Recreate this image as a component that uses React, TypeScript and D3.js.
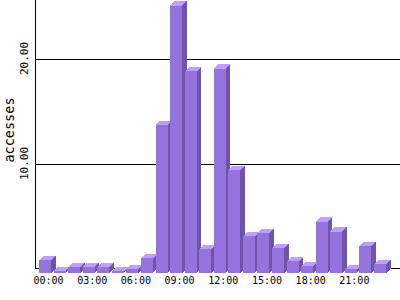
import React from "react";
import * as d3 from "d3";

const hours: string[] = [
  "00:00","01:00","02:00","03:00","04:00","05:00","06:00","07:00",
  "08:00","09:00","10:00","11:00","12:00","13:00","14:00","15:00",
  "16:00","17:00","18:00","19:00","20:00","21:00","22:00","23:00",
];
const accesses: number[] = [
  1.2, 0.15, 0.55, 0.55, 0.55, 0.15, 0.35, 1.4,
  14.05, 25.45, 19.2, 2.25, 19.45, 9.8, 3.5, 3.8,
  2.35, 1.1, 0.65, 4.9, 3.95, 0.35, 2.55, 0.85,
];
const xTickLabels: string[] = ["00:00","03:00","06:00","09:00","12:00","15:00","18:00","21:00"];
const yTicks: number[] = [10, 20];
const yTitle = "accesses";

const W = 400, H = 300;
const D = 4.5; // 3D depth

export default function App() {
  const x = d3.scaleBand<string>().domain(hours).range([39, 386]).paddingInner(0.176).paddingOuter(0);
  const yBack = d3.scaleLinear().domain([0, 20]).range([268.5, 58.5]);
  const yFront = (v: number) => yBack(v) + D;
  const bw = x.bandwidth();
  const front = "#9573dc";
  const side = "#6f55a8";
  const top = "#c09cff";
  const mono = "'DejaVu Sans Mono', monospace";

  return (
    <svg width={W} height={H} style={{ position: "absolute", left: 0, top: 0, background: "#fff" }}>
      {yTicks.map((t) => (
        <line key={t} x1={35} x2={W} y1={Math.round(yBack(t)) + 0.5} y2={Math.round(yBack(t)) + 0.5} stroke="#000" strokeWidth={1} />
      ))}
      <line x1={35} x2={W} y1={268.5} y2={268.5} stroke="#000" strokeWidth={1} />
      <line x1={35.5} x2={35.5} y1={0} y2={269} stroke="#000" strokeWidth={1} />
      {hours.map((h, i) => {
        const v = accesses[i];
        const x0 = x(h)!;
        const yt = yFront(v);
        const yb = yFront(0);
        return (
          <g key={h} shapeRendering="crispEdges">
            <rect x={x0} y={yt} width={bw} height={yb - yt} fill={front} />
            <polygon
              points={`${x0},${yt} ${x0 + D},${yt - D} ${x0 + bw + D},${yt - D} ${x0 + bw},${yt}`}
              fill={top}
            />
            <polygon
              points={`${x0 + bw},${yt} ${x0 + bw + D},${yt - D} ${x0 + bw + D},${yb - D} ${x0 + bw},${yb}`}
              fill={side}
            />
          </g>
        );
      })}
      {xTickLabels.map((lab) => (
        <text key={lab} x={x(lab)! + 9.5} y={284} textAnchor="middle" fontFamily={mono} fontSize={10} fill="#000">
          {lab}
        </text>
      ))}
      {yTicks.map((t) => (
        <text
          key={t}
          transform={`translate(28,${yBack(t)}) rotate(-90)`}
          textAnchor="middle"
          fontFamily={mono}
          fontSize={11}
          fill="#000"
        >
          {t.toFixed(2)}
        </text>
      ))}
      <text
        transform={`translate(14,130) rotate(-90)`}
        textAnchor="middle"
        fontFamily={mono}
        fontSize={13.5}
        fill="#000"
      >
        {yTitle}
      </text>
    </svg>
  );
}
